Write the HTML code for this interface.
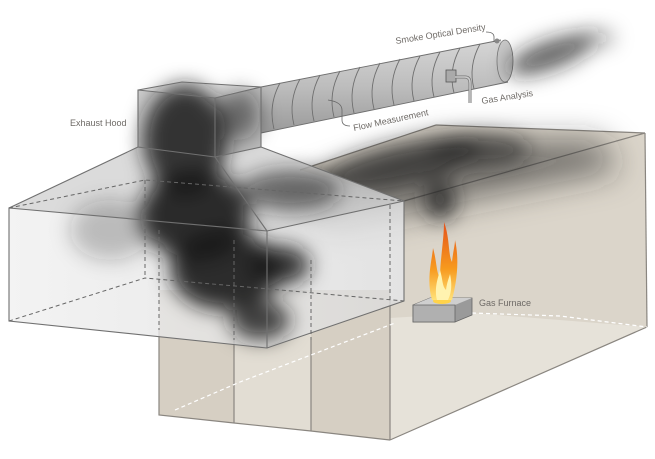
<!DOCTYPE html>
<html><head><meta charset="utf-8"><style>
html,body{margin:0;padding:0;background:#fff;}
svg{display:block;}
text{font-family:"Liberation Sans",sans-serif;fill:#6e6a66;font-size:9px;}
</style></head><body>
<svg width="655" height="459" viewBox="0 0 655 459" xmlns="http://www.w3.org/2000/svg">
<defs>
<filter id="b6" x="-50%" y="-50%" width="200%" height="200%"><feGaussianBlur stdDeviation="6"/></filter>
<filter id="b10" x="-50%" y="-50%" width="200%" height="200%"><feGaussianBlur stdDeviation="10"/></filter>
<filter id="b16" x="-50%" y="-50%" width="200%" height="200%"><feGaussianBlur stdDeviation="16"/></filter>
<linearGradient id="pipe" x1="0" y1="0" x2="0" y2="1"><stop offset="0" stop-color="#d6d6d6"/><stop offset=".5" stop-color="#bdbdbd"/><stop offset="1" stop-color="#9a9a9a"/></linearGradient>
<linearGradient id="hood" x1="0" y1="0" x2="1" y2="0"><stop offset="0" stop-color="#f0f0f0"/><stop offset="1" stop-color="#dcdcdc"/></linearGradient>
<linearGradient id="fl" x1="0" y1="1" x2="0" y2="0"><stop offset="0" stop-color="#ffe27a"/><stop offset=".4" stop-color="#f79a1e"/><stop offset="1" stop-color="#e4521b"/></linearGradient>
</defs>
<!-- room -->
<polygon points="436,125 645,133 647,327 390,440 390,300 404,301 404,201 300,170" fill="#dbd5ca"/>
<polygon points="390,318 472,313 647,327 390,440" fill="#e6e2d9"/>
<polygon points="159,290 390,290 390,440 311,431 234,423 159,415" fill="#d6cfc3"/>
<polygon points="234,290 311,290 311,431 234,423" fill="#e2ddd3"/>
<g stroke="#8a8680" stroke-width="1.2" fill="none">
<line x1="436" y1="125" x2="645" y2="133"/>
<line x1="404" y1="201" x2="645" y2="133"/>
<line x1="645" y1="133" x2="647" y2="327"/>
<line x1="647" y1="327" x2="390" y2="440"/>
<line x1="390" y1="300" x2="390" y2="440"/>
<polyline points="159,330 159,415 234,423 311,431 390,440"/>
<line x1="234" y1="340" x2="234" y2="423"/>
<line x1="311" y1="340" x2="311" y2="431"/>
<line x1="436" y1="125" x2="300" y2="170"/>
</g>
<g stroke="#fff" stroke-width="1.2" stroke-dasharray="4,3" fill="none">
<polyline points="175,410 240,382 395,323"/>
<polyline points="472,313 560,316 647,327"/>
</g>
<!-- ceiling smoke -->
<g fill="#2a2a2a" filter="url(#b16)">
<polygon points="260,200 440,140 600,140 620,170 470,200 330,230" opacity=".55"/>
</g>
<g fill="#222" filter="url(#b10)">
<ellipse cx="400" cy="165" rx="80" ry="20" transform="rotate(-12 400 165)" opacity=".7"/>
<ellipse cx="480" cy="150" rx="50" ry="16" opacity=".6"/>
<ellipse cx="440" cy="200" rx="16" ry="20" opacity=".8"/>
</g>
<!-- hood lower box -->
<polygon points="9,208 267,231 404,201 404,301 267,348 9,321" fill="url(#hood)" opacity=".8"/>
<polygon points="9,208 138,147 215,157 261,147 404,201 267,231" fill="#d2d2d2" opacity=".8"/>
<polygon points="138,90 215,98 215,157 138,147" fill="#cdcdcd"/>
<polygon points="215,98 261,87 261,147 215,157" fill="#bdbdbd"/>
<polygon points="138,90 182,82 261,87 215,98" fill="#e3e3e3"/>
<!-- pipe -->
<polygon points="261,87 501,40 508,82 261,133" fill="url(#pipe)"/>
<ellipse cx="505" cy="61" rx="8" ry="21" fill="#c8c8c8" stroke="#777" stroke-width=".8"/>
<g stroke="#6f6f6f" stroke-width="0.9" fill="none">
<line x1="261" y1="87" x2="501" y2="40"/><line x1="261" y1="133" x2="508" y2="82"/>
<path d="M280,83 q-12,22 -6,46"/><path d="M300,79 q-12,22 -6,46"/><path d="M320,75 q-12,22 -6,46"/>
<path d="M340,71 q-12,22 -6,46"/><path d="M360,67 q-12,22 -6,46"/><path d="M380,63 q-12,22 -6,46"/>
<path d="M400,59 q-12,22 -6,46"/><path d="M420,56 q-12,22 -6,45"/><path d="M440,52 q-12,22 -6,45"/>
<path d="M460,48 q-12,22 -6,45"/><path d="M480,44 q-12,22 -6,45"/>
</g>
<!-- gas analysis probe -->
<rect x="446" y="70" width="10" height="12" fill="#aaa" stroke="#555" stroke-width=".8"/>
<path d="M455,77 h10 q5,0 5,6 v20" stroke="#777" stroke-width="3" fill="none"/>
<path d="M455,77 h10 q5,0 5,6 v20" stroke="#ccc" stroke-width="1.5" fill="none"/>
<circle cx="497" cy="41" r="2.5" fill="#888"/>
<!-- smoke tail & collar -->
<g fill="#1e1e1e" filter="url(#b10)">
<ellipse cx="550" cy="55" rx="45" ry="14" transform="rotate(-20 550 55)" opacity=".7"/>
<ellipse cx="595" cy="38" rx="20" ry="8" opacity=".4"/>
</g>
<g fill="#1a1a1a" filter="url(#b10)">
<ellipse cx="185" cy="140" rx="42" ry="55" opacity=".85"/>
<ellipse cx="195" cy="215" rx="55" ry="45" opacity=".9"/>
<ellipse cx="225" cy="270" rx="55" ry="40" opacity=".9"/>
<ellipse cx="280" cy="265" rx="30" ry="20" opacity=".85"/>
<ellipse cx="260" cy="320" rx="30" ry="20" opacity=".8"/>
<ellipse cx="290" cy="190" rx="50" ry="20" opacity=".6"/>
<ellipse cx="110" cy="230" rx="40" ry="30" opacity=".25"/>
<ellipse cx="240" cy="115" rx="20" ry="25" opacity=".5"/>
</g>
<!-- hood lines -->
<g stroke="#707070" stroke-width="1.1" fill="none">
<polygon points="9,208 267,231 404,201 404,301 267,348 9,321"/>
<line x1="267" y1="231" x2="267" y2="348"/>
<line x1="9" y1="208" x2="138" y2="147"/><line x1="267" y1="231" x2="215" y2="157"/><line x1="404" y1="201" x2="261" y2="147"/>
<polygon points="138,90 182,82 261,87 261,147 215,157 138,147"/>
<line x1="215" y1="98" x2="215" y2="157"/><line x1="138" y1="90" x2="215" y2="98"/><line x1="215" y1="98" x2="261" y2="87"/>
</g>
<g stroke="#666" stroke-width="1" stroke-dasharray="4,3" fill="none">
<polyline points="9,208 145,180 404,201"/>
<polyline points="9,321 145,278 404,301"/>
<line x1="145" y1="180" x2="145" y2="278"/>
<line x1="390" y1="205" x2="390" y2="300"/>
<line x1="159" y1="230" x2="159" y2="330"/>
<line x1="234" y1="240" x2="234" y2="340"/>
<line x1="311" y1="260" x2="311" y2="340"/>
</g>
<!-- furnace -->
<polygon points="413,305 430,298 472,298 472,315 455,322 413,322" fill="#9a9a9a" stroke="#666" stroke-width=".8"/>
<polygon points="413,305 430,298 472,298 455,305" fill="#cfcfcf"/>
<polygon points="413,305 455,305 455,322 413,322" fill="#b0b0b0" stroke="#666" stroke-width=".8"/>
<ellipse cx="442" cy="301" rx="9" ry="3" fill="#ffd34a"/>
<path d="M432,300 C426,280 432,260 433,248 C437,262 436,272 440,278 C440,260 444,240 444,222 C450,238 448,255 452,262 C453,252 455,245 455,240 C460,262 456,285 452,300 Z" fill="url(#fl)"/>
<path d="M437,300 C434,288 438,278 440,270 C443,280 442,286 446,290 C447,282 449,278 450,274 C453,288 450,296 448,300 Z" fill="#fff3b0"/>
<!-- labels -->
<text x="70" y="126">Exhaust Hood</text>
<text x="479" y="306">Gas Furnace</text>
<text x="396" y="44" transform="rotate(-9 396 44)">Smoke Optical Density</text>
<path d="M486,32 q8,0 8,5 v5" stroke="#666" fill="none" stroke-width=".8"/>
<text x="482" y="104" transform="rotate(-9 482 104)">Gas Analysis</text>
<text x="354" y="131" transform="rotate(-12 354 131)">Flow Measurement</text>
<path d="M328,100 q14,2 14,10 v10 q0,6 8,6" stroke="#666" fill="none" stroke-width=".8"/>
</svg>
</body></html>
